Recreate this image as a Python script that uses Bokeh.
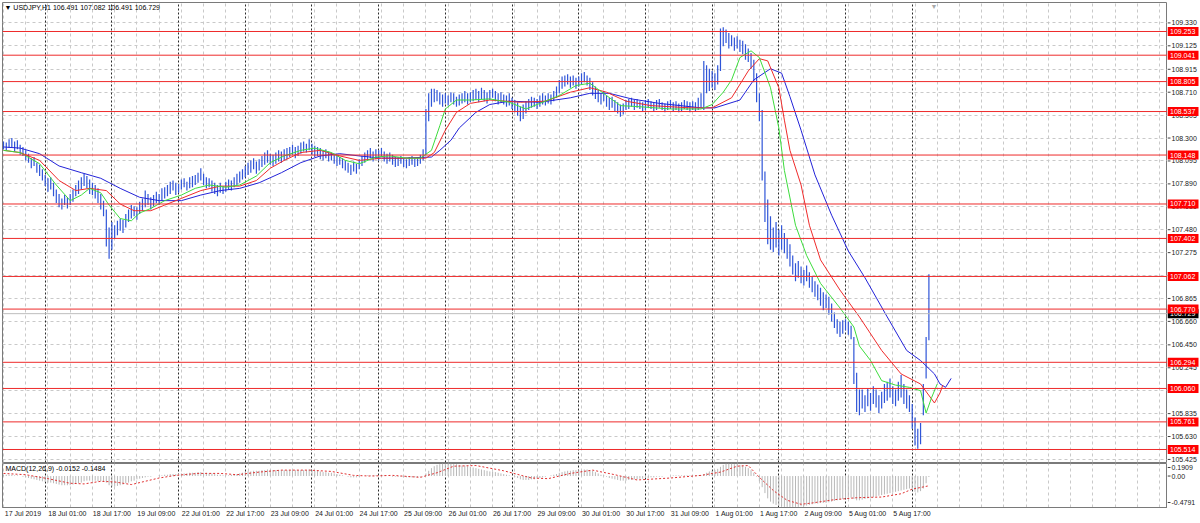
from bokeh.plotting import figure
from bokeh.models import Range1d, FixedTicker, Span, Label, Grid, GlobalInlineStyleSheet
from bokeh.layouts import column, row
from bokeh.embed import file_html
from bokeh.resources import INLINE
from bokeh.core.properties import value

FONT = "Liberation Sans"

# ---------------- data (hourly bars, index 0 = 17 Jul 2019 09:00) ----------------
high = [
108.27,108.26,108.29,108.30,108.27,108.28,108.24,
108.22,108.19,108.16,108.12,108.13,108.08,108.06,
108.02,107.97,107.94,107.95,107.90,107.84,
107.80,107.76,107.79,107.77,107.80,
107.84,107.88,107.92,107.95,107.98,107.96,107.93,
107.90,107.88,107.85,107.80,107.74,
107.66,107.50,107.55,
107.52,107.56,107.58,107.57,107.62,
107.66,107.70,107.69,107.68,107.73,
107.76,107.83,107.80,107.77,107.79,107.82,107.80,107.85,107.86,
107.88,107.91,107.92,107.90,107.89,107.93,107.94,107.91,107.95,
107.96,107.97,107.99,108.03,107.98,107.95,107.94,107.92,107.90,
107.88,107.90,107.87,107.91,107.93,107.92,107.95,107.98,108.00,
108.02,108.05,108.08,108.10,108.12,108.09,108.11,108.14,108.17,
108.19,108.16,108.15,108.17,108.19,108.18,108.20,
108.21,108.22,108.24,108.22,108.23,108.26,108.27,108.25,108.29,108.25,108.23,108.22,108.21,
108.19,108.20,108.18,108.17,108.16,108.14,108.13,108.12,108.10,
108.08,108.06,108.09,108.07,108.11,108.14,108.17,
108.19,108.21,108.18,108.20,108.19,108.21,108.18,108.16,108.17,108.15,108.13,
108.13,108.14,108.12,108.11,108.13,108.14,108.12,108.13,108.15,108.20,
108.56,108.70,108.74,
108.74,108.73,108.71,108.69,108.70,108.68,108.71,108.70,108.67,108.69,108.70,108.72,108.70,108.71,
108.73,108.74,108.72,108.75,108.73,108.71,108.73,108.74,108.72,108.70,108.71,
108.69,108.68,108.70,108.66,108.64,108.62,108.58,108.60,108.63,
108.65,108.67,108.66,108.65,108.68,108.70,108.68,108.70,108.69,108.72,108.76,108.82,
108.85,108.86,108.87,108.85,108.86,108.84,108.85,108.88,108.89,108.86,108.84,
108.80,108.76,108.73,108.70,108.72,108.68,108.66,108.67,108.64,108.62,108.60,108.61,108.64,
108.65,108.66,108.64,108.65,108.63,108.62,108.64,108.65,108.63,108.62,
108.64,108.65,108.62,108.61,108.63,108.64,108.62,108.63,108.61,108.62,
108.64,108.63,108.62,108.63,108.62,108.66,108.70,
108.99,108.95,108.92,108.90,108.88,108.95,
109.28,109.29,109.27,109.24,109.22,109.20,109.21,109.18,
109.17,109.14,109.10,109.06,109.00,108.88,108.70,
108.55,108.00,107.75,107.60,
107.50,107.55,107.48,107.52,107.45,107.40,107.35,
107.25,107.18,107.20,107.15,107.12,107.16,107.10,
107.06,107.02,106.99,106.96,106.92,106.90,106.88,106.82,
106.74,106.68,106.66,106.67,106.68,106.66,106.62,
106.52,106.20,106.05,
106.05,106.00,106.06,106.02,106.08,106.05,106.00,106.03,106.10,
106.12,106.15,106.08,106.05,106.12,106.18,106.10,106.05,106.00,
105.92,105.80,105.70,105.75,
106.10,106.52,107.082,
]
low = [
108.20,108.19,108.21,108.22,108.18,108.20,108.15,
108.14,108.10,108.08,108.03,108.05,107.99,107.96,
107.92,107.87,107.82,107.84,107.78,107.72,
107.68,107.66,107.70,107.67,107.70,
107.73,107.78,107.80,107.84,107.87,107.85,107.80,
107.79,107.76,107.72,107.66,107.60,
107.33,107.22,107.30,
107.40,107.43,107.47,107.45,107.50,
107.55,107.58,107.60,107.57,107.62,
107.65,107.68,107.70,107.66,107.69,107.72,107.70,107.74,107.76,
107.78,107.80,107.83,107.79,107.81,107.84,107.86,107.83,107.85,
107.86,107.88,107.90,107.92,107.88,107.85,107.86,107.82,107.80,
107.78,107.81,107.80,107.82,107.84,107.83,107.86,107.88,107.90,
107.93,107.95,107.97,107.99,108.02,107.98,108.01,108.04,108.06,
108.08,108.06,108.05,108.07,108.09,108.08,108.10,
108.11,108.13,108.15,108.12,108.14,108.16,108.18,108.17,108.19,108.15,108.13,108.14,108.11,
108.10,108.12,108.09,108.10,108.07,108.05,108.06,108.03,108.01,
107.99,107.97,108.00,107.98,108.02,108.05,108.08,
108.10,108.12,108.09,108.11,108.10,108.13,108.09,108.07,108.09,108.06,108.04,
108.05,108.07,108.04,108.03,108.05,108.06,108.04,108.05,108.07,108.10,
108.15,108.45,108.58,
108.62,108.63,108.60,108.58,108.61,108.59,108.62,108.60,108.58,108.59,108.61,108.62,108.60,108.62,
108.63,108.64,108.62,108.65,108.63,108.61,108.64,108.66,108.63,108.60,108.62,
108.60,108.58,108.59,108.56,108.53,108.50,108.45,108.47,108.52,
108.55,108.57,108.58,108.56,108.58,108.60,108.59,108.61,108.60,108.63,108.66,108.70,
108.74,108.76,108.78,108.75,108.77,108.74,108.76,108.78,108.80,108.77,108.73,
108.68,108.65,108.62,108.60,108.63,108.58,108.55,108.57,108.54,108.52,108.49,108.51,108.55,
108.56,108.58,108.55,108.57,108.56,108.54,108.55,108.57,108.56,108.54,
108.55,108.57,108.55,108.53,108.55,108.56,108.54,108.55,108.53,108.54,
108.56,108.55,108.53,108.55,108.54,108.55,108.57,
108.55,108.70,108.72,108.75,108.73,108.78,
108.90,109.12,109.15,109.10,109.12,109.08,109.10,109.07,
109.05,109.00,108.98,108.92,108.80,108.62,108.45,
107.92,107.55,107.35,107.30,
107.28,107.32,107.25,107.30,107.27,107.22,107.15,
107.08,107.02,107.05,107.00,106.98,107.02,106.96,
106.92,106.88,106.85,106.80,106.76,106.78,106.72,106.66,
106.60,106.55,106.52,106.55,106.58,106.54,106.50,
106.10,105.85,105.82,
105.88,105.85,105.90,105.86,105.92,105.89,105.84,105.88,105.93,
105.95,105.98,105.92,105.90,105.95,105.98,105.92,105.88,105.85,
105.70,105.55,105.52,105.56,
105.82,106.15,106.491,
]

# Alligator lines (bar index, price)
jaw_i = [0,6,13,20,28,35,42,49,56,64,71,78,85,92,100,107,114,121,128,136,143,154,157,161,164,170,175,182,193,204,211,218,226,236,251,256,265,270,276,280,283,287,292,298,304,310,318,325,330,335,337,339,341]
jaw_v = [108.22,108.21,108.16,108.05,107.99,107.94,107.85,107.77,107.74,107.74,107.79,107.83,107.85,107.90,107.99,108.08,108.14,108.16,108.14,108.12,108.12,108.13,108.19,108.28,108.39,108.53,108.60,108.63,108.62,108.66,108.70,108.70,108.65,108.61,108.57,108.57,108.64,108.82,108.92,108.88,108.67,108.37,107.97,107.61,107.29,107.05,106.70,106.40,106.31,106.19,106.10,106.07,106.15]
teeth_i = [0,6,13,20,26,31,37,42,47,53,58,64,71,78,85,91,96,101,107,114,121,128,136,143,152,155,159,163,168,175,186,195,204,211,217,224,233,247,255,262,268,272,275,279,281,283,287,290,294,301,308,316,323,330,335,337,338]
teeth_v = [108.19,108.17,108.10,107.92,107.83,107.85,107.83,107.71,107.65,107.65,107.70,107.76,107.83,107.87,107.87,107.92,108.03,108.10,108.17,108.19,108.14,108.10,108.12,108.12,108.12,108.17,108.37,108.53,108.61,108.64,108.62,108.63,108.71,108.75,108.71,108.63,108.59,108.57,108.57,108.66,108.90,109.01,108.99,108.75,108.46,108.19,107.88,107.52,107.21,106.94,106.70,106.40,106.19,106.10,105.93,106.02,106.09]
lips_i = [0,6,13,19,24,28,31,35,38,42,46,49,53,58,64,69,74,80,85,91,96,101,107,112,118,123,128,134,139,145,150,154,157,159,163,168,175,182,188,193,200,206,211,217,222,229,240,251,255,259,262,265,269,272,276,279,281,285,289,294,301,306,308,312,316,321,326,330,332,334,336]
lips_v = [108.19,108.17,108.07,107.88,107.74,107.79,107.85,107.81,107.70,107.58,107.56,107.63,107.67,107.74,107.79,107.85,107.88,107.86,107.88,107.96,108.08,108.14,108.19,108.21,108.17,108.10,108.07,108.13,108.14,108.12,108.12,108.19,108.41,108.56,108.64,108.64,108.65,108.62,108.56,108.61,108.68,108.77,108.79,108.68,108.59,108.58,108.56,108.56,108.60,108.71,108.82,109.02,109.08,109.02,108.75,108.39,108.01,107.52,107.25,107.00,106.78,106.61,106.44,106.31,106.13,106.09,106.07,106.04,105.84,105.98,106.10]

# MACD(12,26,9) main values per bar
macd = [
0.02,0.02,0.02,0.02,0.01,0.01,0.00,-0.01,-0.02,-0.03,-0.04,-0.05,-0.06,-0.07,
-0.08,-0.09,-0.10,-0.10,-0.11,-0.12,-0.13,-0.14,-0.14,-0.14,-0.14,
-0.13,-0.12,-0.11,-0.10,-0.08,-0.07,-0.07,
-0.07,-0.07,-0.08,-0.08,-0.09,
-0.10,-0.14,-0.16,-0.16,-0.15,-0.14,-0.13,-0.11,
-0.10,-0.08,-0.07,-0.05,-0.04,-0.03,-0.02,-0.01,-0.01,0.00,0.00,0.01,0.01,0.02,
0.02,0.03,0.03,0.03,0.03,0.04,0.04,0.04,0.05,0.05,0.05,0.06,0.06,0.05,0.05,0.04,0.04,0.03,
0.02,0.02,0.01,0.01,0.01,0.02,0.02,0.03,0.04,
0.05,0.06,0.07,0.07,0.08,0.08,0.08,0.09,0.09,0.10,0.09,0.09,0.09,0.09,0.09,0.09,
0.09,0.09,0.09,0.09,0.09,0.09,0.09,0.09,0.10,0.09,0.08,0.08,0.07,
0.06,0.06,0.05,0.05,0.04,0.03,0.02,0.01,0.00,-0.01,-0.02,-0.02,-0.02,-0.01,0.00,0.00,
0.01,0.01,0.01,0.01,0.01,0.01,0.01,0.00,0.00,-0.01,-0.01,-0.01,-0.01,-0.02,-0.02,-0.02,-0.02,-0.02,-0.02,-0.01,0.00,
0.04,0.08,0.12,0.15,0.17,0.18,0.19,0.19,0.19,0.19,0.18,0.18,0.17,0.16,0.16,0.15,0.14,
0.13,0.12,0.11,0.10,0.09,0.08,0.07,0.07,0.06,0.05,0.04,0.03,0.02,0.01,0.00,-0.01,-0.03,-0.05,-0.06,-0.06,
-0.06,-0.05,-0.05,-0.04,-0.03,-0.02,-0.01,0.00,0.01,0.02,0.03,0.05,
0.06,0.07,0.08,0.08,0.09,0.09,0.09,0.09,0.10,0.10,0.09,
0.08,0.06,0.04,0.02,0.01,-0.01,-0.03,-0.04,-0.05,-0.06,-0.07,-0.07,-0.07,
-0.06,-0.06,-0.05,-0.05,-0.04,-0.04,-0.03,-0.03,-0.02,-0.02,-0.01,-0.01,-0.01,0.00,0.00,0.00,0.01,0.01,0.01,0.01,0.01,0.01,0.01,0.01,0.01,0.01,0.01,
0.03,0.05,0.07,0.08,0.09,0.11,
0.14,0.17,0.19,0.19,0.19,0.18,0.18,0.17,
0.16,0.14,0.12,0.09,0.05,-0.01,-0.08,
-0.17,-0.26,-0.34,-0.39,-0.42,-0.44,-0.45,-0.46,-0.47,-0.47,-0.479,
-0.47,-0.47,-0.47,-0.46,-0.46,-0.45,-0.44,
-0.43,-0.42,-0.42,-0.41,-0.41,-0.41,-0.40,-0.39,
-0.38,-0.37,-0.36,-0.35,-0.34,-0.33,-0.33,
-0.35,-0.37,-0.37,-0.36,-0.35,-0.34,-0.33,-0.32,-0.31,-0.30,-0.29,-0.28,
-0.27,-0.26,-0.25,-0.24,-0.23,-0.22,-0.21,-0.20,-0.19,
-0.21,-0.24,-0.25,-0.23,-0.19,-0.11,-0.015,
]
signal_i = [0,8,16,24,29,35,40,46,52,56,62,70,78,84,92,100,110,118,126,132,140,150,156,162,170,180,190,196,204,212,220,228,240,251,258,264,268,272,277,282,287,291,299,307,316,323,327,333]
signal_v = [0.04,0.02,-0.04,-0.11,-0.12,-0.08,-0.09,-0.13,-0.07,-0.03,0.01,0.04,0.04,0.02,0.06,0.09,0.09,0.07,0.01,0.00,0.01,-0.02,0.05,0.15,0.16,0.08,-0.03,-0.04,0.04,0.09,0.02,-0.06,-0.03,0.01,0.06,0.15,0.16,-0.02,-0.22,-0.37,-0.43,-0.41,-0.36,-0.33,-0.32,-0.27,-0.20,-0.1484]

# horizontal line levels and labels
red_levels = [109.253,109.041,108.805,108.537,108.148,107.710,107.402,107.062,106.770,106.294,106.060,105.761,105.514]
bid_price = 106.729
price_ticks = [109.330,109.125,108.915,108.710,108.505,108.300,108.095,107.890,107.685,107.480,107.275,107.070,106.865,106.660,106.450,106.245,106.040,105.835,105.630,105.425]
x_tick_idx = [0,16,32,48,64,80,96,112,128,144,160,176,192,208,224,240,256,272,288,304,320]
x_tick_labels = ["17 Jul 2019","18 Jul 01:00","18 Jul 17:00","19 Jul 09:00","22 Jul 01:00","22 Jul 17:00","23 Jul 09:00","24 Jul 01:00","24 Jul 17:00","25 Jul 09:00","26 Jul 01:00","26 Jul 17:00","29 Jul 09:00","30 Jul 01:00","30 Jul 17:00","31 Jul 09:00","1 Aug 01:00","1 Aug 17:00","2 Aug 09:00","5 Aug 01:00","5 Aug 17:00"]
day_start_idx = [15,39,63,87,111,135,159,183,207,231,255,279,303,327]
grid_idx = list(range(0, 420, 8))
macd_tick_pos = [0.13, 0.0, -0.403]
macd_tick_text = ["0.1909", "0.00", "-0.4791"]
header_text = "\u25bc USDJPY,H1  106.491 107.082 106.491 106.729"
macd_text = "MACD(12,26,9) -0.0152 -0.1484"

# ---------------- styling ----------------
BAR = "#2f55d8"
JAW = "#2323d8"
TEETH = "#ef2b2b"
LIPS = "#3ddc3d"
RED = "#ee2a2a"
GRIDC = "#c9c9c9"
FRAME = "#7a7a7a"
TXT = "#202020"
FS = "7px"
LABEL_SHIFT = 7  # x labels start at their tick (MT4 style)

N = min(len(high), len(low), len(macd))
idx = list(range(N))
xr = Range1d(-0.36, 418.86)
yr = Range1d(105.3977, 109.5124)
yr2 = Range1d(-0.4791, 0.1909)

def base_fig(w, h, x_range, y_range, top, bottom, left, xaxis=None, outline=FRAME):
    f = figure(width=w, height=h, x_range=x_range, y_range=y_range, output_backend="svg",
               toolbar_location=None, x_axis_location=xaxis, y_axis_location=None,
               min_border_left=left, min_border_right=0, min_border_top=top,
               min_border_bottom=bottom, outline_line_color=outline,
               background_fill_color="white", border_fill_color="white")
    f.xgrid.visible = False
    f.ygrid.visible = False
    return f

def add_grids(fig, horiz=None):
    fig.add_layout(Grid(dimension=0, ticker=FixedTicker(ticks=grid_idx), grid_line_color=GRIDC,
                        grid_line_dash="3 3", grid_line_width=1))
    if horiz is not None:
        fig.add_layout(Grid(dimension=1, ticker=FixedTicker(ticks=horiz), grid_line_color=GRIDC,
                            grid_line_dash="3 3", grid_line_width=1))
    fig.add_layout(Grid(dimension=0, ticker=FixedTicker(ticks=day_start_idx), grid_line_color="#2a2a2a",
                        grid_line_dash="2 2", grid_line_width=1))

# ---------------- main price panel ----------------
p = base_fig(1167, 463, xr, yr, 2, 1, 2)
add_grids(p, price_ticks)

for lv in red_levels:
    p.add_layout(Span(location=lv, dimension="width", line_color=RED, line_width=1))
p.add_layout(Span(location=bid_price, dimension="width", line_color="#bdbdbd", line_width=1))

p.segment(x0=idx, y0=low[:N], x1=idx, y1=high[:N], line_color=BAR, line_width=1.2)
p.line(jaw_i, jaw_v, line_color=JAW, line_width=1)
p.line(teeth_i, teeth_v, line_color=TEETH, line_width=1)
p.line(lips_i, lips_v, line_color=LIPS, line_width=1)

# Label screen units are measured from the frame's bottom-left corner
p.add_layout(Label(x=2, y=455, x_units="screen", y_units="screen", text=header_text,
                   text_font=FONT, text_font_size=FS, text_color="#000000",
                   text_baseline="middle", text_align="left"))
p.add_layout(Label(x=928, y=456, x_units="screen", y_units="screen", text="\u25bc",
                   text_font=FONT, text_font_size=FS, text_color="#a8a8a8",
                   text_baseline="middle", text_align="left"))

# price scale strip (right of main panel)
s1 = base_fig(33, 463, Range1d(0, 33), yr, 2, 1, 0, outline=None)
s1.segment(x0=0, x1=3, y0=price_ticks, y1=price_ticks, line_color="#404040", line_width=1)
s1.text(x=4, y=price_ticks, text=[f"{v:.3f}" for v in price_ticks], text_font=value(FONT),
        text_font_size=FS, text_color=TXT, text_baseline="middle", text_align="left")
s1.rect(x=15.5, y=[bid_price], width=31, height=9, width_units="screen", height_units="screen",
        fill_color="#000000", line_color=None)
s1.text(x=2.5, y=[bid_price], text=[f"{bid_price:.3f}"], text_font=value(FONT),
        text_font_size=FS, text_color="white", text_baseline="middle", text_align="left")
s1.rect(x=15.5, y=red_levels, width=31, height=9, width_units="screen", height_units="screen",
        fill_color="#ff0000", line_color=None)
s1.text(x=2.5, y=red_levels, text=[f"{v:.3f}" for v in red_levels], text_font=value(FONT),
        text_font_size=FS, text_color="white", text_baseline="middle", text_align="left")

# ---------------- MACD panel ----------------
p2 = base_fig(1167, 60, xr, yr2, 0, 16, 2, xaxis="below")
add_grids(p2)
zeros = [0.0] * N
p2.segment(x0=idx, y0=zeros, x1=idx, y1=macd[:N], line_color="#b8b8b8", line_width=1)
p2.line(signal_i, signal_v, line_color="#e03030", line_width=1, line_dash="2 2")
p2.add_layout(Label(x=3, y=39, x_units="screen", y_units="screen", text=macd_text,
                    text_font=FONT, text_font_size=FS, text_color="#000000",
                    text_baseline="middle", text_align="left"))

label_pos = [i + LABEL_SHIFT for i in x_tick_idx]
axx = p2.xaxis[0]
axx.ticker = FixedTicker(ticks=label_pos)
axx.major_label_overrides = {pos: t for pos, t in zip(label_pos, x_tick_labels)}
axx.major_label_text_font = FONT
axx.major_label_text_font_size = FS
axx.major_label_text_color = TXT
axx.major_tick_out = 0
axx.major_tick_in = 0
axx.minor_tick_out = 0
axx.minor_tick_in = 0
axx.major_label_standoff = 2
axx.axis_line_color = FRAME

s2 = base_fig(33, 60, Range1d(0, 33), yr2, 0, 16, 0, outline=None)
s2.segment(x0=0, x1=3, y0=macd_tick_pos, y1=macd_tick_pos, line_color="#404040", line_width=1)
s2.text(x=4, y=macd_tick_pos, text=macd_tick_text, text_font=value(FONT),
        text_font_size=FS, text_color=TXT, text_baseline="middle", text_align="left")

layout = column(row(p, s1), row(p2, s2),
                stylesheets=[GlobalInlineStyleSheet(css="body { margin: 0; overflow: hidden; }")])

open("out.html", "w").write(file_html(layout, INLINE))
